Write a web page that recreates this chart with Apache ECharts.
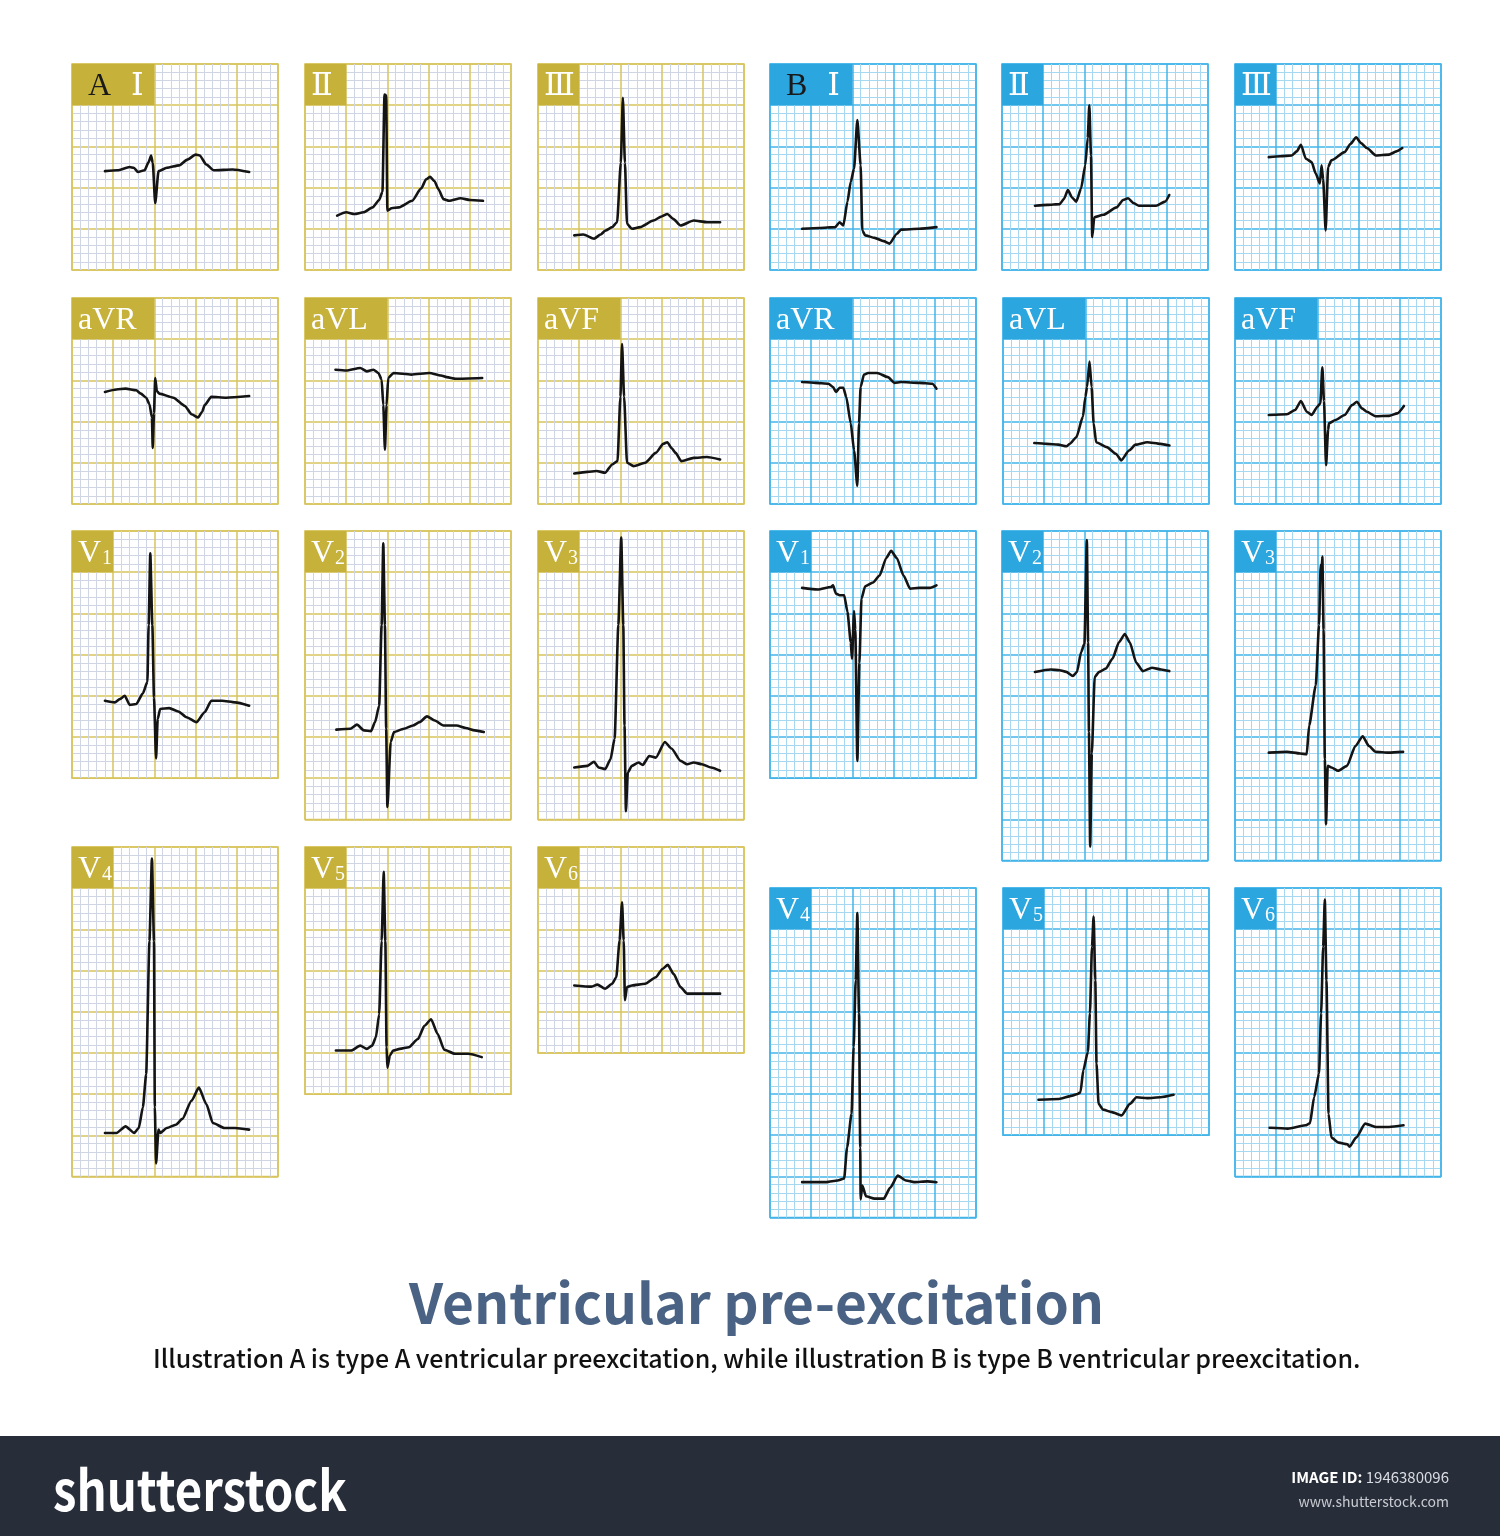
<!DOCTYPE html>
<html>
<head>
<meta charset="utf-8">
<title>Ventricular pre-excitation</title>
<script src="https://cdn.jsdelivr.net/npm/echarts@6/dist/echarts.min.js"></script>
<style>
    html, body { margin: 0; padding: 0; background: #fff; }
    #main { width: 1500px; height: 1536px; }
</style>
</head>
<body>
<div id="main"></div>
<script>
// each trace: [time in mm (small boxes), depth in mm from the top of its panel]
// ---- type A ----
var aI = [[4.0,13.0],[5.5,12.9],[7.0,12.5],[7.5,12.6],[8.0,13.1],[8.8,12.9],[9.3,11.9],[9.6,11.1],[9.8,12.0],[10.1,16.9],[10.5,13.0],[11.5,12.6],[13.0,12.3],[14.0,11.6],[15.0,11.0],[15.5,11.1],[16.3,12.2],[17.2,12.9],[19.5,12.8],[21.5,13.1]];
var aII = [[3.9,18.4],[5.0,18.0],[6.0,18.2],[7.1,18.0],[8.2,17.4],[9.0,16.5],[9.4,15.5],[9.65,3.7],[9.85,3.8],[10.0,17.8],[10.5,17.5],[11.4,17.4],[13.0,16.6],[14.1,15.1],[14.7,14.0],[15.2,13.7],[15.7,14.2],[16.2,15.2],[16.8,16.4],[17.5,16.6],[18.9,16.3],[20.0,16.5],[21.6,16.6]];
var aIII = [[4.4,20.8],[5.5,20.7],[6.8,21.2],[7.6,20.7],[8.2,20.2],[9.0,19.8],[9.6,19.2],[10.05,12.0],[10.3,4.1],[10.55,12.0],[10.8,19.4],[11.4,20.0],[12.4,19.8],[14.0,19.0],[15.0,18.5],[15.7,18.2],[16.4,18.8],[17.3,19.6],[18.9,19.0],[20.5,19.2],[22.1,19.2]];
var aAVR = [[4.0,11.4],[5.4,11.1],[6.5,11.0],[7.8,11.2],[8.35,11.6],[9.0,12.1],[9.4,12.9],[9.7,14.5],[9.8,18.2],[9.95,14.0],[10.1,9.7],[10.3,11.3],[10.6,11.6],[12.3,12.1],[13.7,13.1],[14.5,14.1],[15.3,14.5],[15.8,13.8],[16.1,13.0],[16.9,12.0],[18.7,12.1],[21.5,11.9]];
var aAVL = [[3.7,8.7],[5.0,8.8],[6.7,8.5],[7.5,8.9],[8.3,8.7],[8.9,9.1],[9.3,9.9],[9.5,13.0],[9.7,18.4],[9.9,13.0],[10.1,9.7],[10.75,9.1],[12.9,9.3],[15.1,9.1],[16.5,9.4],[17.2,9.6],[18.3,9.8],[21.5,9.7]];
var aAVF = [[4.4,21.3],[6.0,21.1],[7.1,21.0],[8.15,21.2],[9.0,20.2],[9.65,19.8],[10.0,12.0],[10.2,5.6],[10.45,12.0],[10.8,20.0],[11.6,20.4],[13.0,20.0],[14.3,18.8],[15.2,17.7],[15.7,17.5],[16.2,18.2],[16.7,18.8],[17.4,19.8],[18.9,19.4],[20.5,19.3],[22.1,19.6]];
var aV1 = [[4.0,20.6],[5.2,20.8],[5.8,20.4],[6.4,20.0],[7.0,21.1],[7.8,21.0],[8.6,19.7],[9.15,18.3],[9.3,11.4],[9.5,2.7],[9.75,11.4],[9.95,20.2],[10.2,27.6],[10.4,22.8],[10.7,21.6],[11.8,21.5],[12.9,21.9],[13.9,22.6],[15.1,23.2],[16.1,22.0],[16.9,20.6],[18.2,20.6],[19.8,20.8],[21.5,21.2]];
var aV2 = [[3.8,24.1],[5.5,24.0],[6.3,23.5],[7.15,24.2],[8.0,24.3],[8.5,23.2],[9.0,21.2],[9.3,11.4],[9.5,1.5],[9.7,11.4],[9.85,24.0],[10.0,33.5],[10.4,25.6],[10.8,24.4],[12.0,24.0],[13.1,23.6],[13.9,23.2],[14.8,22.5],[15.75,23.0],[16.8,23.6],[18.4,23.6],[19.5,23.9],[20.6,24.2],[21.7,24.4]];
var aV3 = [[4.4,28.7],[6.0,28.5],[6.8,28.0],[7.35,28.7],[8.15,28.9],[8.8,27.7],[9.3,25.2],[9.75,11.4],[10.1,0.8],[10.35,11.4],[10.5,23.6],[10.67,34.0],[10.9,29.3],[11.4,28.5],[12.2,28.1],[12.7,28.4],[13.5,27.3],[14.3,27.5],[15.4,25.6],[16.2,26.4],[17.3,27.9],[18.1,28.3],[18.9,28.1],[19.9,28.3],[21.0,28.7],[22.1,29.1]];
var aV4 = [[4.0,34.7],[5.4,34.7],[6.5,33.9],[7.55,34.7],[8.1,34.1],[8.6,31.6],[9.0,27.6],[9.4,11.4],[9.7,1.4],[9.95,11.4],[10.05,31.6],[10.2,38.4],[10.5,34.3],[10.7,34.7],[11.5,34.1],[12.6,33.7],[13.4,33.0],[14.5,30.8],[15.4,29.2],[16.3,31.2],[17.1,33.5],[18.5,34.1],[19.8,34.1],[21.5,34.3]];
var aV5 = [[3.75,24.7],[5.6,24.7],[6.7,24.1],[7.5,24.5],[8.15,24.1],[8.6,23.1],[9.0,20.3],[9.3,11.4],[9.55,3.0],[9.75,11.4],[9.9,24.3],[10.0,26.8],[10.3,25.3],[10.7,24.7],[11.5,24.5],[12.6,24.3],[13.7,23.3],[14.5,21.7],[15.3,20.9],[16.1,22.7],[16.9,24.6],[18.2,25.1],[19.8,25.1],[21.45,25.5]];
var aV6 = [[4.4,16.8],[6.5,16.95],[7.2,16.7],[8.15,17.2],[9.0,16.6],[9.5,15.8],[9.9,11.35],[10.2,6.7],[10.4,11.35],[10.55,18.6],[10.8,17.0],[11.4,16.8],[13.0,16.6],[14.3,15.8],[15.1,14.8],[15.75,14.3],[16.45,15.4],[17.3,17.0],[18.1,17.8],[19.95,17.8],[22.1,17.8]];
// ---- type B ----
var bI = [[3.9,20.0],[6.0,19.9],[7.9,19.8],[8.45,19.2],[8.9,19.6],[9.4,16.7],[9.8,14.3],[10.2,12.7],[10.6,6.8],[11.0,12.3],[11.2,20.2],[11.55,20.8],[12.7,21.1],[13.8,21.5],[14.5,21.8],[15.4,20.6],[15.9,20.1],[18.1,20.0],[20.2,19.8]];
var bII = [[4.0,17.2],[5.5,17.1],[7.0,17.0],[7.5,16.4],[8.0,15.3],[8.5,16.2],[9.0,16.7],[9.6,15.1],[10.1,12.3],[10.4,9.0],[10.6,5.0],[10.8,11.1],[10.95,21.0],[11.2,18.6],[12.3,18.3],[13.9,17.4],[14.7,16.5],[15.3,16.3],[16.0,16.9],[16.6,17.2],[18.7,17.2],[19.8,16.7],[20.3,15.9]];
var bIII = [[4.1,11.3],[5.5,11.2],[6.9,11.1],[7.5,10.6],[8.0,9.8],[8.6,11.5],[9.3,11.9],[9.8,13.3],[10.3,14.5],[10.5,12.3],[10.7,14.0],[11.0,20.2],[11.3,12.5],[11.7,11.7],[13.3,10.7],[14.0,9.7],[14.7,8.9],[15.3,9.6],[16.0,10.2],[17.1,11.1],[18.7,11.0],[19.6,10.6],[20.3,10.2]];
var bAVR = [[3.9,10.2],[5.5,10.3],[7.1,10.4],[7.65,10.8],[8.0,11.4],[8.45,10.9],[8.9,10.9],[9.25,12.0],[9.8,15.2],[10.2,18.5],[10.6,22.8],[10.8,15.2],[11.0,10.8],[11.4,9.3],[11.9,9.1],[13.0,9.1],[14.3,9.6],[15.1,10.3],[15.9,10.2],[18.1,10.3],[19.7,10.4],[20.2,11.0]];
var bAVL = [[3.8,17.6],[5.3,17.7],[6.7,17.8],[7.7,18.0],[8.1,17.7],[8.9,16.9],[9.7,14.4],[10.0,12.0],[10.2,10.8],[10.5,7.7],[10.75,10.8],[11.0,15.2],[11.3,17.5],[12.6,18.1],[13.7,18.9],[14.35,19.7],[15.3,18.5],[16.1,17.8],[17.5,17.5],[19.1,17.7],[20.2,17.9]];
var bAVF = [[4.1,14.2],[6.3,14.1],[7.3,13.6],[8.0,12.5],[8.7,13.8],[9.3,14.2],[10.0,13.2],[10.35,12.8],[10.6,8.4],[10.8,12.5],[11.05,20.3],[11.3,16.0],[11.4,15.2],[12.2,14.8],[13.3,14.2],[14.2,13.0],[14.8,12.6],[15.4,13.4],[16.0,13.8],[17.05,14.35],[18.7,14.3],[19.7,14.0],[20.5,13.1]];
var bV1 = [[3.9,6.9],[5.8,7.1],[7.4,6.8],[7.65,6.6],[8.0,7.6],[8.45,7.8],[9.0,7.8],[9.4,9.8],[9.8,13.5],[9.95,15.5],[10.2,9.7],[10.35,12.0],[10.6,27.9],[10.85,16.0],[11.1,8.2],[11.55,6.7],[12.5,6.25],[13.3,5.4],[14.1,3.3],[14.7,2.4],[15.4,3.3],[16.2,5.4],[17.0,7.0],[18.1,6.9],[19.4,6.9],[20.2,6.6]];
var bV2 = [[4.0,17.1],[5.9,16.8],[7.0,16.9],[7.8,17.1],[8.6,17.6],[9.1,17.1],[9.6,14.7],[10.0,13.7],[10.3,1.1],[10.45,13.5],[10.55,24.4],[10.7,38.3],[10.9,27.0],[11.25,17.7],[11.8,17.1],[12.6,16.7],[13.4,15.5],[14.2,13.5],[14.9,12.5],[15.5,13.5],[16.3,16.0],[17.1,17.0],[18.2,16.6],[19.3,16.8],[20.3,17.0]];
var bV3 = [[4.1,26.9],[6.3,26.8],[7.9,27.0],[8.7,27.1],[9.0,23.6],[9.8,18.75],[10.2,11.4],[10.4,4.1],[10.5,5.0],[10.6,3.1],[10.75,12.0],[10.9,27.7],[11.05,35.6],[11.25,28.5],[11.7,28.7],[12.5,29.1],[13.6,28.5],[14.6,26.1],[15.5,24.9],[16.25,26.1],[17.05,26.8],[18.65,26.9],[20.4,26.8]];
var bV4 = [[3.9,35.7],[6.85,35.7],[8.2,35.5],[9.0,35.25],[9.35,31.5],[9.9,27.4],[10.15,19.3],[10.4,11.2],[10.6,3.05],[10.8,15.2],[10.95,31.5],[11.0,37.8],[11.2,36.1],[11.65,37.4],[12.7,37.7],[13.8,37.7],[14.6,36.35],[15.5,34.9],[16.5,35.5],[17.5,35.7],[19.1,35.6],[20.2,35.7]];
var bV5 = [[4.3,25.7],[6.8,25.6],[8.4,25.2],[9.05,25.0],[9.4,24.8],[9.75,22.1],[10.3,19.9],[10.55,15.2],[10.8,7.1],[11.0,3.45],[11.2,11.2],[11.35,21.3],[11.6,26.2],[12.15,26.9],[13.2,27.2],[14.4,27.6],[15.4,26.2],[16.2,25.4],[17.5,25.5],[19.1,25.4],[20.7,25.1]];
var bV6 = [[4.2,29.1],[6.4,29.2],[8.55,28.8],[9.1,28.55],[9.6,25.4],[10.2,22.5],[10.45,15.2],[10.7,7.1],[10.9,1.4],[11.1,11.2],[11.35,27.4],[11.7,30.3],[12.6,30.9],[13.65,31.1],[13.9,31.4],[14.7,30.3],[15.8,28.6],[17.1,29.0],[18.7,29.0],[20.45,28.8]];

var MM = 8.24; // pixels per small box

var themes = {
    A: {major: '#d7c45e', minor: '#d0d5e4', tag: '#c6b13b'},
    B: {major: '#43b5e8', minor: '#a7d8f1', tag: '#2ca6df'}
};

// panel layout: left/top in px, height in mm, tag box width in mm
var panels = [
    {type:'A', data:aI,   lead:'Ⅰ',   letter:'A', left:72,  top:64,  h:25, tw:10},
    {type:'A', data:aII,  lead:'Ⅱ',   left:305, top:64,  h:25, tw:5},
    {type:'A', data:aIII, lead:'Ⅲ',   left:538, top:64,  h:25, tw:5},
    {type:'A', data:aAVR, lead:'aVR', left:72,  top:298, h:25, tw:10},
    {type:'A', data:aAVL, lead:'aVL', left:305, top:298, h:25, tw:10},
    {type:'A', data:aAVF, lead:'aVF', left:538, top:298, h:25, tw:10},
    {type:'A', data:aV1,  lead:'V', sub:'1', left:72,  top:531, h:30, tw:5},
    {type:'A', data:aV2,  lead:'V', sub:'2', left:305, top:531, h:35, tw:5},
    {type:'A', data:aV3,  lead:'V', sub:'3', left:538, top:531, h:35, tw:5},
    {type:'A', data:aV4,  lead:'V', sub:'4', left:72,  top:847, h:40, tw:5},
    {type:'A', data:aV5,  lead:'V', sub:'5', left:305, top:847, h:30, tw:5},
    {type:'A', data:aV6,  lead:'V', sub:'6', left:538, top:847, h:25, tw:5},
    {type:'B', data:bI,   lead:'Ⅰ',   letter:'B', left:770,  top:64,  h:25, tw:10},
    {type:'B', data:bII,  lead:'Ⅱ',   left:1002, top:64,  h:25, tw:5},
    {type:'B', data:bIII, lead:'Ⅲ',   left:1235, top:64,  h:25, tw:5},
    {type:'B', data:bAVR, lead:'aVR', left:770,  top:298, h:25, tw:10},
    {type:'B', data:bAVL, lead:'aVL', left:1003, top:298, h:25, tw:10},
    {type:'B', data:bAVF, lead:'aVF', left:1235, top:298, h:25, tw:10},
    {type:'B', data:bV1,  lead:'V', sub:'1', left:770,  top:531, h:30, tw:5},
    {type:'B', data:bV2,  lead:'V', sub:'2', left:1002, top:531, h:40, tw:5},
    {type:'B', data:bV3,  lead:'V', sub:'3', left:1235, top:531, h:40, tw:5},
    {type:'B', data:bV4,  lead:'V', sub:'4', left:770,  top:888, h:40, tw:5},
    {type:'B', data:bV5,  lead:'V', sub:'5', left:1003, top:888, h:30, tw:5},
    {type:'B', data:bV6,  lead:'V', sub:'6', left:1235, top:888, h:35, tw:5}
];

var serif = "'Liberation Serif', 'DejaVu Serif', serif";
var sans = "'Noto Sans CJK SC', 'Noto Sans', sans-serif";

function tagText(p) {
    if (p.letter) return '{k|' + p.letter + '}{w|' + p.lead + '}';
    if (p.sub) return '{w|' + p.lead + '}{s|' + p.sub + '}';
    return '{w|' + p.lead + '}';
}

var grids = [], xAxes = [], yAxes = [], series = [];
panels.forEach(function (p, i) {
    var th = themes[p.type];
    grids.push({left: p.left, top: p.top, width: 25 * MM, height: p.h * MM,
        show: true, borderColor: th.major, borderWidth: 1.5, backgroundColor: '#fff'});
    var ax = {
        gridIndex: i, type: 'value', min: 0, interval: 5,
        axisLine: {show: false}, axisTick: {show: false}, axisLabel: {show: false},
        splitLine: {show: true, lineStyle: {color: th.major, width: 1.5}},
        minorTick: {show: false, splitNumber: 5},
        minorSplitLine: {show: true, lineStyle: {color: th.minor, width: 1}}
    };
    xAxes.push(Object.assign({}, ax, {max: 25}));
    yAxes.push(Object.assign({}, ax, {max: p.h, inverse: true}));
    series.push({
        type: 'line', xAxisIndex: i, yAxisIndex: i, data: p.data,
        symbol: 'none', silent: true, animation: false,
        smooth: 0.2, smoothMonotone: 'x',
        lineStyle: {color: '#141414', width: 2.6, cap: 'round', join: 'round'},
        markArea: {
            silent: true,
            itemStyle: {color: th.tag, opacity: 1},
            label: {
                show: true, position: 'insideLeft', distance: p.letter ? 16 : 6,
                offset: [0, 2],
                formatter: tagText(p),
                rich: {
                    k: {fontFamily: serif, fontSize: 32, color: '#1a1a1a', padding: [0, 20, 0, 0]},
                    w: {fontFamily: serif, fontSize: 32, color: '#fff'},
                    s: {fontFamily: serif, fontSize: 20, color: '#fff', padding: [10, 0, 0, 1]}
                }
            },
            data: [[{coord: [0, 0]}, {coord: [p.tw, 5]}]]
        }
    });
});

var chart = echarts.init(document.getElementById('main'), null, {renderer: 'canvas'});
chart.setOption({
    backgroundColor: '#fff',
    animation: false,
    grid: grids,
    xAxis: xAxes,
    yAxis: yAxes,
    series: series,
    title: [
        {text: 'Ventricular pre-excitation', left: 404, top: 1271,
            textStyle: {fontFamily: sans, fontWeight: 'bold', fontSize: 55, color: '#4a6283'}},
        {text: 'Illustration A is type A ventricular preexcitation, while illustration B is type B ventricular preexcitation.',
            left: 148, top: 1341,
            textStyle: {fontFamily: sans, fontWeight: 500, fontSize: 25, color: '#111'}},
        {text: '{b|IMAGE ID:} 1946380096', right: 46, top: 1465, z: 10,
            textStyle: {fontFamily: sans, fontWeight: 'normal', fontSize: 15, color: '#d9dce2',
                rich: {b: {fontFamily: sans, fontSize: 15, fontWeight: 'bold', color: '#fff'}}}},
        {text: 'www.shutterstock.com', right: 46, top: 1490, z: 10,
            textStyle: {fontFamily: sans, fontWeight: 'normal', fontSize: 14, color: '#c9ccd2'}}
    ],
    graphic: [
        {type: 'rect', left: 0, top: 1436, z: 0, shape: {width: 1500, height: 100}, style: {fill: '#282e39'}},
        {type: 'text', x: 53, y: 1490, z: 5, scaleX: 0.86,
            style: {text: 'shutterstock', fill: '#fff', font: 'bold 55px ' + sans, textVerticalAlign: 'middle'}}
    ]
});
</script>
</body>
</html>
